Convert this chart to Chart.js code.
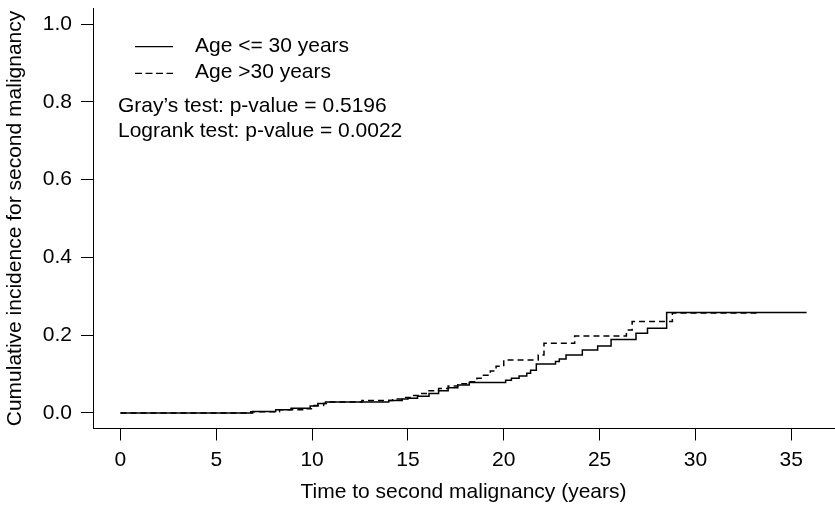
<!DOCTYPE html>
<html>
<head>
<meta charset="utf-8">
<script src="https://cdn.jsdelivr.net/npm/chart.js@4"></script>
<style>
  html, body { margin: 0; padding: 0; background: #ffffff; }
  #wrap { width: 835px; height: 506px; }
</style>
</head>
<body>
<div id="wrap"><canvas id="c" width="835" height="506"></canvas></div>
<script>
// ---- data ----
const youngTimes  = [0, 6.9, 8.1, 8.9, 9.9, 10.3, 10.7, 14.0, 14.7, 15.0, 15.5, 16.1, 16.6, 17.1, 17.6, 18.2, 20.1, 20.4, 20.8, 21.2, 21.4, 21.7, 22.7, 22.9, 23.25, 24.1, 24.9, 25.6, 26.9, 27.5, 28.5, 35.8];
const youngValues = [0, 0.004, 0.008, 0.012, 0.018, 0.024, 0.028, 0.032, 0.036, 0.038, 0.043, 0.050, 0.057, 0.065, 0.072, 0.078, 0.084, 0.089, 0.095, 0.102, 0.110, 0.126, 0.132, 0.139, 0.149, 0.162, 0.172, 0.189, 0.205, 0.218, 0.258, 0.258];

const oldTimes  = [0, 6.8, 8.3, 9.7, 10.1, 10.6, 10.8, 12.6, 14.2, 14.8, 15.2, 15.6, 16.0, 16.6, 17.1, 17.6, 18.2, 18.6, 18.9, 19.3, 19.6, 20.0, 21.8, 22.1, 23.7, 26.4, 26.7, 28.8, 33.2];
const oldValues = [0, 0.003, 0.008, 0.011, 0.019, 0.024, 0.028, 0.032, 0.036, 0.040, 0.045, 0.050, 0.057, 0.063, 0.069, 0.075, 0.080, 0.089, 0.097, 0.108, 0.120, 0.136, 0.149, 0.179, 0.198, 0.213, 0.235, 0.257, 0.257];

const xTicks = [0, 5, 10, 15, 20, 25, 30, 35];
const yTicks = [0.0, 0.2, 0.4, 0.6, 0.8, 1.0];
const seriesLabels = ['Age <= 30 years', 'Age >30 years'];
const testLabels = ['Gray\u2019s test: p-value = 0.5196', 'Logrank test: p-value = 0.0022'];
const xTitle = 'Time to second malignancy (years)';
const yTitle = 'Cumulative incidence for second malignancy';

// ---- build ----
const FONT = "'Liberation Sans', Arial, Helvetica, sans-serif";
const toPts = (xs, ys) => xs.map((x, i) => ({ x: x, y: ys[i] }));

const annot = {
  id: 'annot',
  afterDraw(chart) {
    const ctx = chart.ctx;
    ctx.save();
    ctx.strokeStyle = '#000';
    ctx.fillStyle = '#000';
    ctx.lineWidth = 1.3;
    // legend lines
    ctx.beginPath(); ctx.moveTo(135, 46.7); ctx.lineTo(173, 46.7); ctx.stroke();
    ctx.setLineDash([7, 3.5]);
    ctx.beginPath(); ctx.moveTo(135, 73.3); ctx.lineTo(173, 73.3); ctx.stroke();
    ctx.setLineDash([]);
    ctx.font = '21px ' + FONT;
    ctx.textBaseline = 'alphabetic';
    ctx.textAlign = 'left';
    ctx.fillText(seriesLabels[0], 195, 51.7);
    ctx.fillText(seriesLabels[1], 195, 78.3);
    ctx.fillText(testLabels[0], 118, 111.7);
    ctx.fillText(testLabels[1], 118, 136.7);
    ctx.restore();
  }
};

new Chart(document.getElementById('c'), {
  type: 'line',
  data: {
    datasets: [
      { label: seriesLabels[0], data: toPts(youngTimes, youngValues), borderColor: '#000', borderWidth: 1.5, stepped: true, pointRadius: 0, fill: false },
      { label: seriesLabels[1], data: toPts(oldTimes, oldValues), borderColor: '#000', borderWidth: 1.5, borderDash: [6, 4], stepped: true, pointRadius: 0, fill: false }
    ]
  },
  options: {
    responsive: false,
    animation: false,
    devicePixelRatio: 1,
    layout: { padding: { top: 8.5, right: 1, left: 0, bottom: 0 } },
    plugins: { legend: { display: false }, tooltip: { enabled: false } },
    scales: {
      x: {
        type: 'linear',
        min: -1.432, max: 37.232,
        afterBuildTicks: s => { s.ticks = xTicks.map(v => ({ value: v })); },
        afterFit: s => { s.height = 77.5; s.paddingLeft = 0; s.paddingRight = 0; },
        grid: { display: true, drawOnChartArea: false, drawTicks: true, tickLength: 12, color: '#000', lineWidth: 1 },
        border: { display: true, color: '#000', width: 1 },
        ticks: { color: '#000', font: { family: FONT, size: 21 }, padding: 7, maxRotation: 0, autoSkip: false, callback: v => String(v) },
        title: { display: true, text: xTitle, color: '#000', font: { family: FONT, size: 21 }, padding: { top: 0, bottom: 0.7 } }
      },
      y: {
        type: 'linear',
        min: -0.04, max: 1.04,
        afterBuildTicks: s => { s.ticks = yTicks.map(v => ({ value: v })); },
        afterFit: s => { s.width = 93; s.paddingTop = 0; s.paddingBottom = 0; },
        grid: { display: true, drawOnChartArea: false, drawTicks: true, tickLength: 12, color: '#000', lineWidth: 1 },
        border: { display: true, color: '#000', width: 1 },
        ticks: { color: '#000', font: { family: FONT, size: 21 }, padding: 9, autoSkip: false, callback: v => Number(v).toFixed(1) },
        title: { display: true, text: yTitle, color: '#000', font: { family: FONT, size: 21 }, padding: { top: 2.8, bottom: 0 } }
      }
    }
  },
  plugins: [annot]
});
</script>
</body>
</html>
